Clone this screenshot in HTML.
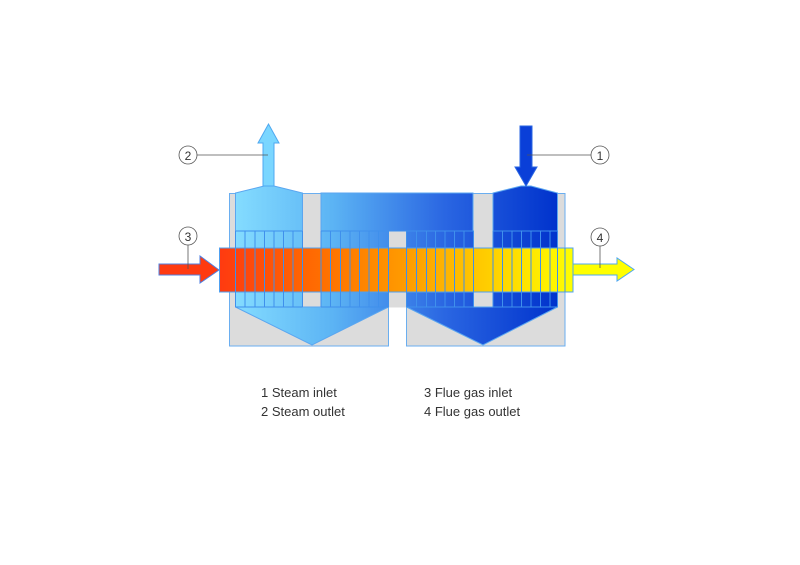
<!DOCTYPE html>
<html><head><meta charset="utf-8"><style>
html,body{margin:0;padding:0;background:#fff;width:800px;height:565px;overflow:hidden}
svg{display:block}
text{font-family:"Liberation Sans",sans-serif;fill:#333}
</style></head><body>
<svg width="800" height="565" viewBox="0 0 800 565">
<defs>
<linearGradient id="bl" gradientUnits="userSpaceOnUse" x1="235" y1="0" x2="558" y2="0">
<stop offset="0" stop-color="#84dcff"/>
<stop offset="0.3" stop-color="#5cb4f4"/>
<stop offset="0.65" stop-color="#2a66e2"/>
<stop offset="1" stop-color="#0032cc"/>
</linearGradient>
<linearGradient id="fg" gradientUnits="userSpaceOnUse" x1="219" y1="0" x2="573" y2="0">
<stop offset="0" stop-color="#ff3a10"/>
<stop offset="0.3" stop-color="#ff7000"/>
<stop offset="0.55" stop-color="#ffa000"/>
<stop offset="0.75" stop-color="#ffcc00"/>
<stop offset="1" stop-color="#ffff00"/>
</linearGradient>
</defs>
<!-- grey boxes -->
<rect x="229.5" y="193.5" width="159" height="152.5" fill="#dcdcdc" stroke="#6aaef0" stroke-width="1"/>
<rect x="406.5" y="193.5" width="158.5" height="152.5" fill="#dcdcdc" stroke="#6aaef0" stroke-width="1"/>
<rect x="388.5" y="193.5" width="18" height="114" fill="#dcdcdc"/>
<!-- blue chambers -->
<g fill="url(#bl)" stroke="#5aa6f0" stroke-width="1">
<polygon points="235.5,193 264,186 274,186 302.5,193 302.5,231 235.5,231"/>
<rect x="321" y="193" width="152" height="38"/>
<polygon points="493,193 521,186 531,186 557.5,193 557.5,231 493,231"/>
<rect x="235.5" y="231" width="67" height="76"/>
<rect x="321" y="231" width="67.5" height="76"/>
<rect x="406.5" y="231" width="67" height="76"/>
<rect x="493" y="231" width="64.5" height="76"/>
<polygon points="235.5,307 388.5,307 312,345"/>
<polygon points="406.5,307 557.5,307 483,345"/>
</g>
<!-- up arrow 2 -->
<polygon points="263,186 263,143 258,143 268.5,124 279,143 274,143 274,186" fill="#7ad6ff" stroke="#4fa8f0" stroke-width="1"/>
<!-- down arrow 1 -->
<polygon points="520,126 532,126 532,167 537,167 526,186 515,167 520,167" fill="#0a3fd8" stroke="#2a66e2" stroke-width="1"/>
<!-- flue band -->
<rect x="219.5" y="248" width="353.5" height="44" fill="url(#fg)" stroke="#4fa0f0" stroke-width="1"/>
<!-- tube lines -->
<g stroke="#3f90ec" stroke-width="1" fill="none">
<path d="M245,231V307M255,231V307M264.5,231V307M274,231V307M283.5,231V307M293,231V307
M330.5,231V307M340.5,231V307M350,231V307M359.5,231V307M369,231V307M378.5,231V307
M416.5,231V307M426.5,231V307M435.5,231V307M445,231V307M454.5,231V307M464,231V307
M502.5,231V307M512,231V307M521.5,231V307M531,231V307M540.5,231V307M550,231V307
M235.5,231V307M302.5,231V307M321,231V307M388.5,231V307M406.5,231V307M473.5,231V307M493,231V307M557.5,231V307M565,248V292"/>
<path d="M235.5,231H302.5M321,231H473.5M493,231H557.5M235.5,307H302.5M321,307H388.5M406.5,307H473.5M493,307H557.5"/>
</g>
<!-- arrow 3 -->
<polygon points="159,264 200,264 200,256 219,270 200,283 200,275 159,275" fill="#ff3a10" stroke="#4f7fe0" stroke-width="1"/>
<!-- arrow 4 -->
<polygon points="573,264 617,264 617,258 634,269.5 617,281 617,275 573,275" fill="#ffff00" stroke="#4fa8f0" stroke-width="1"/>
<!-- callouts -->
<g stroke="#555" stroke-width="0.8" fill="#fff">
<line x1="197" y1="155" x2="268" y2="155"/>
<line x1="527" y1="155" x2="591" y2="155"/>
<line x1="188" y1="245" x2="188" y2="269"/>
<line x1="600" y1="246" x2="600" y2="268"/>
<circle cx="188" cy="155" r="9"/>
<circle cx="600" cy="155" r="9"/>
<circle cx="188" cy="236" r="9"/>
<circle cx="600" cy="237" r="9"/>
</g>
<g font-size="12" text-anchor="middle">
<text x="188" y="160">2</text>
<text x="600" y="160">1</text>
<text x="188" y="241">3</text>
<text x="600" y="242">4</text>
</g>
<g font-size="13">
<text x="261" y="397">1 Steam inlet</text>
<text x="261" y="416">2 Steam outlet</text>
<text x="424" y="397">3 Flue gas inlet</text>
<text x="424" y="416">4 Flue gas outlet</text>
</g>
</svg>
</body></html>
